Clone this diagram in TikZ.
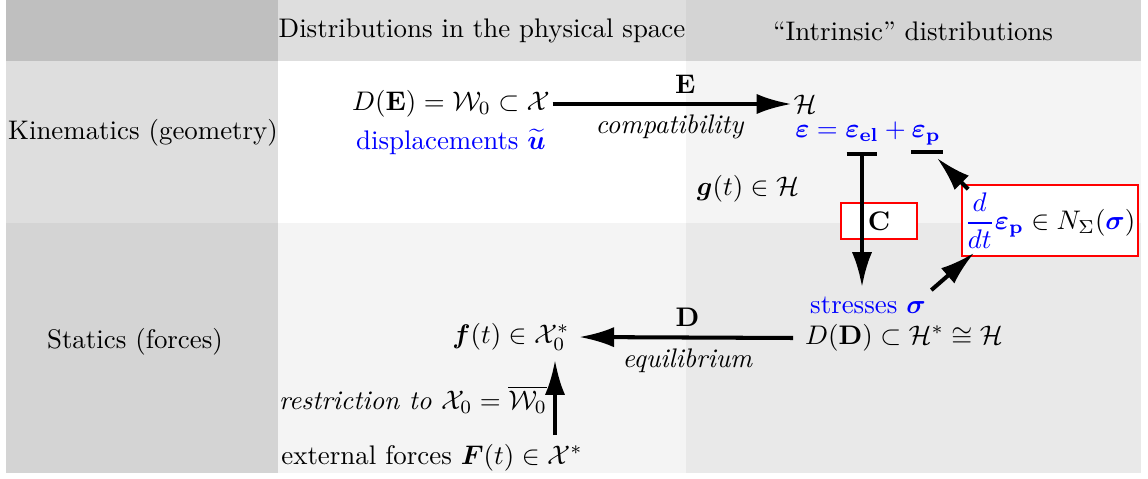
\documentclass[tikz,border=0pt]{standalone}
\usepackage{amsmath,amssymb}
\usetikzlibrary{arrows.meta,calc}
\definecolor{hA}{gray}{0.75}
\definecolor{hB}{gray}{0.87}
\definecolor{hC}{gray}{0.83}
\definecolor{kA}{gray}{0.87}
\definecolor{kC}{gray}{0.955}
\definecolor{sA}{gray}{0.83}
\definecolor{sB}{gray}{0.955}
\definecolor{sC}{gray}{0.915}
\tikzset{
  conn/.style={line width=1.5pt,-{Latex[length=13pt,width=7.5pt]}},
  redbox/.style={draw=red,fill=white,line width=0.6pt},
}
\begin{document}
\begin{tikzpicture}[x=0.372pt,y=-0.372pt]
\useasboundingbox (0,0) rectangle (1148,478);
\fill[white] (0,0) rectangle (1148,478);
\fill[hA] (6,0) rectangle (278,61);
\fill[hB] (278,0) rectangle (686,61);
\fill[hC] (686,0) rectangle (1141,61);
\fill[kA] (6,61) rectangle (278,223);
\fill[kC] (686,61) rectangle (1141,223);
\fill[sA] (6,223) rectangle (278,473);
\fill[sB] (278,223) rectangle (686,473);
\fill[sC] (686,223) rectangle (1141,473);

\node (h1) at (482,31) {Distributions in the physical space};
\node (h2) at (913,31) {``Intrinsic'' distributions};
\node (kin) at (143,133) {Kinematics (geometry)};
\node (sta) at (135,342) {Statics (forces)};

\node (dE) at (451,104) {$D(\mathbf E)=\mathcal W_0\subset\mathcal X$};
\node[text=blue] (disp) at (451,142) {displacements $\widetilde{\boldsymbol u}$};
\node (H) at (805,104) {$\mathcal H$};
\node[text=blue] (eps) at (868,133) {$\boldsymbol\varepsilon=\boldsymbol\varepsilon_{\mathbf{el}}+\boldsymbol\varepsilon_{\mathbf p}$};
\node (g) at (748,189) {$\boldsymbol g(t)\in\mathcal H$};
\node[redbox,minimum width=28.3pt,minimum height=12.6pt] (C) at (879,221) {$\mathbf C$};
\node[redbox,inner sep=1pt,minimum width=65.5pt,minimum height=26.4pt] (dbox) at (1050,220.5)
  {$\displaystyle {\color{blue}\frac{d}{dt}\boldsymbol\varepsilon_{\mathbf p}}\in N_\Sigma({\color{blue}\boldsymbol\sigma})$};
\node[text=blue] (stress) at (868,305) {stresses $\boldsymbol\sigma$};
\node (DD) at (904,338) {$D(\mathbf D)\subset\mathcal H^*\cong\mathcal H$};
\node (f) at (511,337) {$\boldsymbol f(t)\in\mathcal X_0^*$};
\node (restr) at (413,400) {\itshape restriction to $\mathcal X_0=\overline{\mathcal W_0}$};
\node (ext) at (432,458) {external forces $\boldsymbol F(t)\in\mathcal X^*$};

\coordinate (el) at (862,152);
\coordinate (epL) at (911,152);
\coordinate (epR) at (943,152);
\coordinate (eptip) at (937,158);
\coordinate (ax) at (555,400);

\draw[conn,shorten <=-2.5pt,shorten >=-2.8pt] (dE.east) -- (H.west)
  node[pos=0.56,above] {$\mathbf E$}
  node[pos=0.49,below] {\itshape compatibility};
\draw[line width=1.5pt,{Bar[width=11.5pt]}-{Latex[length=13pt,width=7.5pt]}] (el) -- (el |- stress.north);
\draw[line width=1.5pt] (epL) -- (epR);
\draw[conn] ($(dbox.north west)+(7,5)$) -- (eptip);
\draw[conn] ($(stress.north east)+(-4,3)$) -- ($(dbox.south west)+(13,-4)$);
\draw[conn,shorten <=1pt] (DD.west) -- (f.east)
  node[midway,above] {$\mathbf D$}
  node[midway,below] {\itshape equilibrium};
\draw[conn] (ax |- ext.north) -- (ax |- f.south);
\end{tikzpicture}
\end{document}
